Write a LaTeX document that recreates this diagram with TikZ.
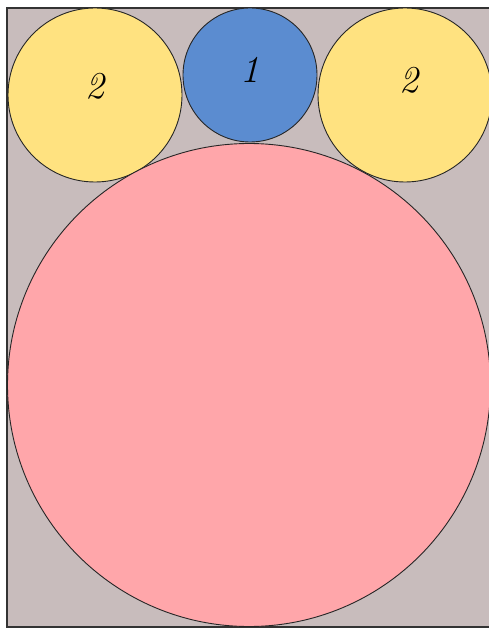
\documentclass[tikz,border=0pt]{standalone}
\definecolor{bgc}{RGB}{200,188,188}
\definecolor{yel}{RGB}{255,226,128}
\definecolor{blu}{RGB}{91,140,208}
\definecolor{pnk}{RGB}{255,166,170}
\begin{document}
\begin{tikzpicture}[x=1pt,y=-1pt,
  disc/.style={draw=black!85,line width=0.9pt},
  lbl/.style={font=\fontsize{38}{38}\selectfont\itshape}]
\useasboundingbox (0,0) rectangle (489,628);
\clip (0,0) rectangle (489,628);
\draw[fill=bgc,draw=black!80,line width=1.6pt] (7,8) rectangle (492,627);
\draw[disc,fill=yel] (95,95) circle (87);
\draw[disc,fill=yel] (405,95) circle (87);
\draw[disc,fill=blu] (250,75) circle (67);
\draw[disc,fill=pnk] (249,385) circle (241.5);
\node[lbl] (l2) at (95,86) {2};
\node[lbl] (r2) at (409,80) {2};
\node[lbl] (c1) at (250,70) {1};
\end{tikzpicture}
\end{document}
